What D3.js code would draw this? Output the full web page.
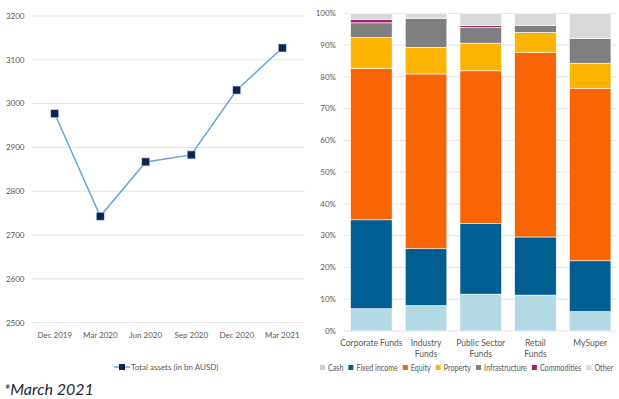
<!DOCTYPE html>
<html><head><meta charset="utf-8">
<script src="https://cdn.jsdelivr.net/npm/d3@7"></script>
<style>
body{margin:0;background:#fff;}
text{font-family:Lato,"Open Sans",sans-serif;}
</style></head>
<body><svg id="c" width="619" height="399"></svg>
<script>
// Left chart data
const periods = ["Dec 2019","Mar 2020","Jun 2020","Sep 2020","Dec 2020","Mar 2021"];
const totalAssets = [2977, 2743, 2867, 2883, 3031, 3127];
const leftTicks = [2500,2600,2700,2800,2900,3000,3100,3200];

// Right chart data
const funds = [["Corporate Funds"],["Industry","Funds"],["Public Sector","Funds"],["Retail","Funds"],["MySuper"]];
const assetClasses = ["Cash","Fixed income","Equity","Property","Infrastructure","Commodities","Other"];
const cash          = [7.0, 8.0, 11.6, 11.3, 6.1];
const fixedIncome   = [28.0, 17.9, 22.3, 18.3, 16.0];
const equity        = [47.7, 55.0, 48.0, 58.0, 54.3];
const property      = [9.7, 8.4, 8.7, 6.4, 7.9];
const infrastructure= [4.6, 9.1, 5.0, 2.2, 7.8];
const commodities   = [1.1, 0.1, 0.5, 0.0, 0.0];
const other         = [1.9, 1.5, 3.9, 3.8, 7.9];
const pctTicks = [0,10,20,30,40,50,60,70,80,90,100];
const colors = ["#b3dae3","#005e92","#f96404","#fbb401","#7f7f7f","#a4206c","#d9d9d9"];

const svg = d3.select("#c");
const tickColor = "#595959";
const fs = 8;

// ---- Left line chart ----
const x1 = d3.scaleBand().domain(periods).range([32,305]);
const y1 = d3.scaleLinear().domain([2500,3200]).range([322.7,16]);
const g1 = svg.append("g");
g1.selectAll("line.grid").data(leftTicks).join("line")
  .attr("x1",32).attr("x2",305).attr("y1",d=>y1(d)).attr("y2",d=>y1(d))
  .attr("stroke","#e3e3e3").attr("stroke-width",1);
g1.selectAll("text.yt").data(leftTicks).join("text")
  .attr("x",24.5).attr("y",d=>y1(d)).attr("dy","0.35em").attr("text-anchor","end")
  .attr("font-size",fs).attr("fill",tickColor).text(d=>d);
g1.selectAll("text.xt").data(periods).join("text")
  .attr("x",d=>x1(d)+x1.bandwidth()/2).attr("y",335).attr("dy","0.35em").attr("text-anchor","middle")
  .attr("font-size",fs).attr("fill",tickColor).text(d=>d);
const line = d3.line().x((d,i)=>x1(periods[i])+x1.bandwidth()/2).y(d=>y1(d));
g1.append("path").datum(totalAssets).attr("d",line).attr("fill","none")
  .attr("stroke","#6aa3da").attr("stroke-width",1.5);
g1.selectAll("rect.m").data(totalAssets).join("rect")
  .attr("x",(d,i)=>x1(periods[i])+x1.bandwidth()/2-4).attr("y",d=>y1(d)-4)
  .attr("width",8).attr("height",8).attr("fill","#0c2550").attr("stroke","#c9d6e8").attr("stroke-width",0.6);
// legend
g1.append("line").attr("x1",114).attr("x2",130).attr("y1",367).attr("y2",367).attr("stroke","#6aa3da").attr("stroke-width",1.5);
g1.append("rect").attr("x",119).attr("y",364).attr("width",6).attr("height",6).attr("fill","#0c2550");
g1.append("text").attr("x",131).attr("y",367).attr("dy","0.35em").attr("font-size",fs).attr("fill",tickColor)
  .text("Total assets (in bn AUSD)");
// footnote
svg.append("text").attr("x",4).attr("y",395).attr("font-size",16).attr("font-style","italic")
  .attr("fill","#2a2a2a").text("*March 2021");

// ---- Right stacked bar chart ----
const series = [cash,fixedIncome,equity,property,infrastructure,commodities,other];
const rows = funds.map((f,i)=>{const o={fund:f.join(" ")}; assetClasses.forEach((a,k)=>o[a]=series[k][i]); return o;});
const x2 = d3.scaleBand().domain(rows.map(r=>r.fund)).range([344,617.5]).paddingInner(0.24).paddingOuter(0.12);
const y2 = d3.scaleLinear().domain([0,100]).range([331,13.3]);
const g2 = svg.append("g");
g2.selectAll("line.grid").data(pctTicks).join("line")
  .attr("x1",343).attr("x2",617).attr("y1",d=>y2(d)).attr("y2",d=>y2(d))
  .attr("stroke","#e3e3e3").attr("stroke-width",1);
g2.selectAll("text.yt").data(pctTicks).join("text")
  .attr("x",336).attr("y",d=>y2(d)).attr("dy","0.35em").attr("text-anchor","end")
  .attr("font-size",fs).attr("fill",tickColor).text(d=>d+"%");
const stack = d3.stack().keys(assetClasses)(rows);
g2.selectAll("g.s").data(stack).join("g").attr("fill",(d,i)=>colors[i])
  .selectAll("rect").data(d=>d).join("rect")
  .attr("x",d=>x2(d.data.fund)).attr("width",x2.bandwidth())
  .attr("y",d=>y2(d[1])).attr("height",d=>Math.max(0,y2(d[0])-y2(d[1])))
  .attr("stroke","#fff").attr("stroke-width",0.6);
funds.forEach((f,i)=>{
  const cx = x2(rows[i].fund)+x2.bandwidth()/2;
  const t = g2.append("text").attr("text-anchor","middle").attr("font-size",8.5).attr("fill",tickColor);
  f.forEach((ln,j)=>t.append("tspan").attr("x",cx).attr("y",343+j*11.5).attr("dy","0.35em").text(ln));
});
// legend: lay out sequentially, compress to fit available width
const legStart = 320, legEnd = 613, sq = 5, sqGap = 3, itemGap = 5;
const legTexts = assetClasses.map(a => g2.append("text").attr("y",367.5).attr("dy","0.35em")
  .attr("font-size",9).attr("fill",tickColor).text(a));
const widths = legTexts.map(t => t.node().getComputedTextLength());
const fixedW = assetClasses.length*(sq+sqGap) + (assetClasses.length-1)*itemGap;
const k = Math.min(1, (legEnd-legStart-fixedW)/d3.sum(widths));
let cx = legStart;
assetClasses.forEach((a,i)=>{
  g2.append("rect").attr("x",cx).attr("y",367.5-sq/2).attr("width",sq).attr("height",sq).attr("fill",colors[i]);
  cx += sq+sqGap;
  const w = widths[i]*k;
  legTexts[i].attr("x",cx).attr("textLength",w).attr("lengthAdjust","spacingAndGlyphs");
  cx += w+itemGap;
});
</script></body></html>
